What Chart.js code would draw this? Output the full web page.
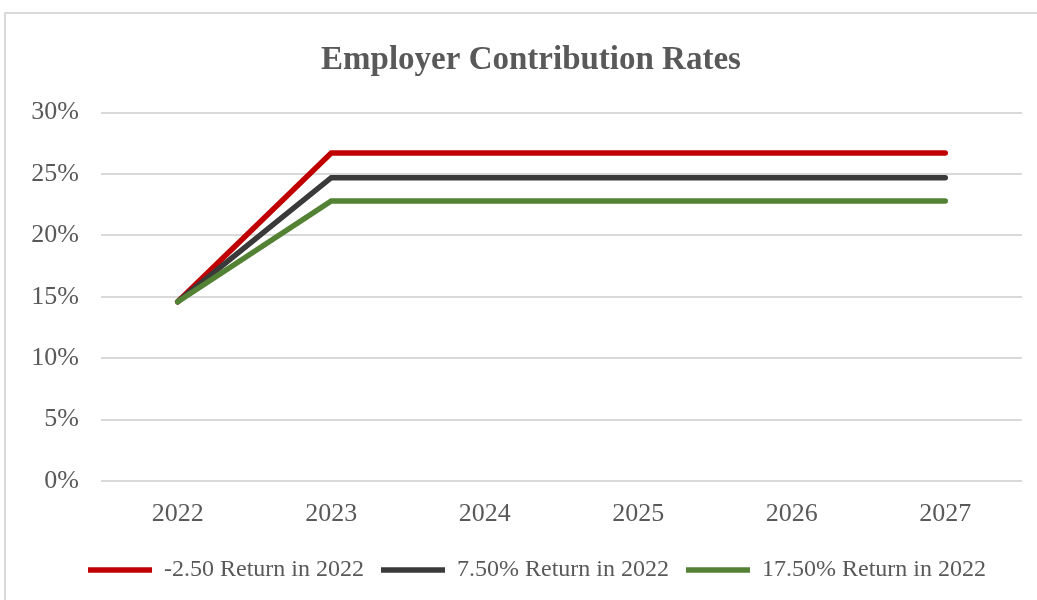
<!DOCTYPE html>
<html>
<head>
<meta charset="utf-8">
<script src="https://cdn.jsdelivr.net/npm/chart.js@4"></script>
<style>
  html, body { margin: 0; padding: 0; background: #fff; }
  #wrap { position: relative; width: 1037px; height: 600px; overflow: hidden; }
  #frame { position: absolute; left: 4px; top: 12px; width: 1100px; height: 700px; border: 2px solid #d9d9d9; box-sizing: border-box; }
  #chart { position: absolute; left: 0; top: 0; }
</style>
</head>
<body>
<div id="wrap">
  <div id="frame"></div>
  <canvas id="chart" width="1037" height="600"></canvas>
</div>
<script>
const years = ['2022', '2023', '2024', '2025', '2026', '2027'];
const seriesNames = ['-2.50 Return in 2022', '7.50% Return in 2022', '17.50% Return in 2022'];
const lowReturn = [14.6, 26.7, 26.7, 26.7, 26.7, 26.7];
const midReturn = [14.6, 24.7, 24.7, 24.7, 24.7, 24.7];
const highReturn = [14.6, 22.8, 22.8, 22.8, 22.8, 22.8];
const yTicks = [0, 5, 10, 15, 20, 25, 30];

const textColor = '#595959';
const serif = "'Liberation Serif', 'Times New Roman', serif";

function line(label, data, color, order) {
  return {
    label, data, order,
    borderColor: color,
    backgroundColor: color,
    borderWidth: 5.5,
    borderCapStyle: 'round',
    pointRadius: 0,
    pointHoverRadius: 0,
    tension: 0
  };
}

// title and legend sit a little right of the plot centre in the original
const nudgeBoxes = {
  id: 'nudgeBoxes',
  afterLayout(chart) {
    chart.titleBlock.left += 20; chart.titleBlock.right += 20;
    chart.legend.left += 26; chart.legend.right += 26;
  }
};

new Chart(document.getElementById('chart'), {
  type: 'line',
  data: {
    labels: years,
    datasets: [
      line(seriesNames[0], lowReturn, '#c00000', 2),
      line(seriesNames[1], midReturn, '#3a3a3a', 1),
      line(seriesNames[2], highReturn, '#548235', 0)
    ]
  },
  plugins: [nudgeBoxes],
  options: {
    responsive: false,
    animation: false,
    layout: { padding: { left: 0, right: 15, top: 0, bottom: 8 } },
    plugins: {
      title: {
        display: true,
        text: 'Employer Contribution Rates',
        color: textColor,
        font: { family: serif, size: 33, weight: 'bold', lineHeight: 1.2 },
        padding: { top: 41, bottom: 32 }
      },
      legend: {
        position: 'bottom',
        labels: {
          color: textColor,
          font: { family: serif, size: 24 },
          usePointStyle: true,
          pointStyle: 'line',
          pointStyleWidth: 64,
          boxHeight: 24,
          padding: 17,
          sort: (a, b) => a.datasetIndex - b.datasetIndex
        }
      },
      tooltip: { enabled: false }
    },
    scales: {
      x: {
        offset: true,
        grid: { display: false, drawTicks: false },
        border: { display: false },
        ticks: { color: textColor, font: { family: serif, size: 26 }, padding: 18, maxRotation: 0 },
        afterFit: (s) => { s.height = 60; }
      },
      y: {
        min: 0,
        max: 30,
        afterBuildTicks: (s) => { s.ticks = yTicks.map(v => ({ value: v })); },
        grid: { color: '#d9d9d9', lineWidth: 2, drawTicks: false },
        border: { display: false },
        ticks: {
          color: textColor,
          font: { family: serif, size: 26 },
          padding: 22,
          callback: (v) => v + '%'
        },
        afterFit: (s) => { s.width = 101; }
      }
    }
  }
});
</script>
</body>
</html>
